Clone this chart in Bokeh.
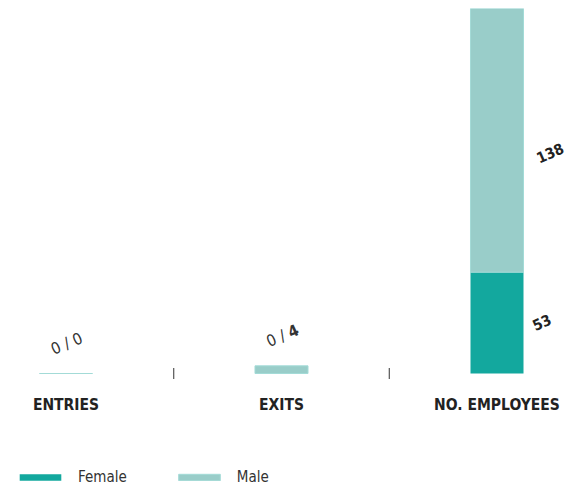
import numpy as np
from bokeh.plotting import figure
from bokeh.models import ColumnDataSource, Range1d, Legend, LegendItem
from bokeh.core.properties import value
from bokeh.embed import file_html
from bokeh.resources import INLINE

categories = ["ENTRIES", "EXITS", "NO. EMPLOYEES"]
female = [0, 0, 53]
male = [0, 4, 138]

FEMALE_C = "#13a89e"
MALE_C = "#99cdc9"
FONT = "'Liberation Sans Narrow', 'DejaVu Sans Condensed', 'Roboto', sans-serif"

xs = np.arange(len(categories))
f = np.array(female)
m = np.array(male)
total = f + m

W, H = 570, 492
TOP, BASE = 8, 373          # frame top, baseline pixel
PXU = 215.5                  # pixels per category
ymax = float(total.max())
ppu = (BASE - TOP) / ymax
y0 = -(H - BASE) / ppu
x0 = -65.5 / PXU
x1 = x0 + W / PXU

p = figure(width=W, height=H, output_backend="svg", toolbar_location=None,
           x_range=Range1d(x0, x1), y_range=Range1d(y0, ymax),
           x_axis_location=None, y_axis_location=None,
           min_border_left=0, min_border_right=0,
           min_border_top=TOP, min_border_bottom=0)
p.outline_line_color = None
p.grid.visible = False

src = ColumnDataSource(dict(x=xs, f0=np.zeros(3), f1=f, m0=f, m1=total))
rf = p.vbar(x="x", bottom="f0", top="f1", width=0.246, source=src,
            fill_color=FEMALE_C, line_color=None)
rm = p.vbar(x="x", bottom="m0", top="m1", width=0.246, source=src,
            fill_color=MALE_C, line_color="#a3dbd7", line_width=1)

# category labels and separator ticks
csrc = ColumnDataSource(dict(x=xs, y=np.zeros(3), t=categories))
p.text(x="x", y="y", text="t", source=csrc, y_offset=31,
       text_align="center", text_baseline="middle", text_font=value(FONT),
       text_font_size="15.5px", text_font_style="bold", text_color="#222222")
mids = (xs[:-1] + xs[1:]) / 2
p.scatter(x=mids, y=np.zeros(len(mids)), marker="dash", angle=np.pi / 2,
          size=11, line_color="#333333", line_width=1)

ANG = 0.42
small = [0, 1]
lsrc = ColumnDataSource(dict(
    x=[xs[i] for i in small], y=[total[i] for i in small],
    left=[f"{female[i]} / " for i in small], right=[str(male[i]) for i in small],
    lstyle=["bold" if female[i] else "normal" for i in small],
    rstyle=["bold" if male[i] else "normal" for i in small]))
for col, align, style in (("left", "right", "lstyle"), ("right", "left", "rstyle")):
    p.text(x="x", y="y", text=col, source=lsrc, angle=ANG, x_offset=7, y_offset=-33,
           text_align=align, text_baseline="middle", text_font=value(FONT),
           text_font_size="16px", text_color="#333333", text_font_style=style)

big = [2]
bsrc = ColumnDataSource(dict(
    x=[xs[i] for i in big] * 2,
    y=[f[i] / 2 for i in big] + [f[i] + m[i] / 2 for i in big],
    t=[str(female[i]) for i in big] + [str(male[i]) for i in big],
    xo=[36, 40], yo=[3, 18]))
p.text(x="x", y="y", text="t", source=bsrc, angle=ANG, x_offset="xo", y_offset="yo",
       text_align="left", text_baseline="middle", text_font=value(FONT),
       text_font_size="15px", text_font_style="bold", text_color="#222222")

legend = Legend(items=[LegendItem(label="Female", renderers=[rf]),
                       LegendItem(label="Male", renderers=[rm])],
                orientation="horizontal", location=(14, 6),
                glyph_width=52, glyph_height=8, label_standoff=12, spacing=46,
                padding=0, margin=0, border_line_color=None,
                background_fill_alpha=0,
                label_text_font=FONT, label_text_font_size="15px",
                label_text_color="#333333")
p.add_layout(legend, "center")

open("out.html", "w").write(file_html(p, INLINE))
